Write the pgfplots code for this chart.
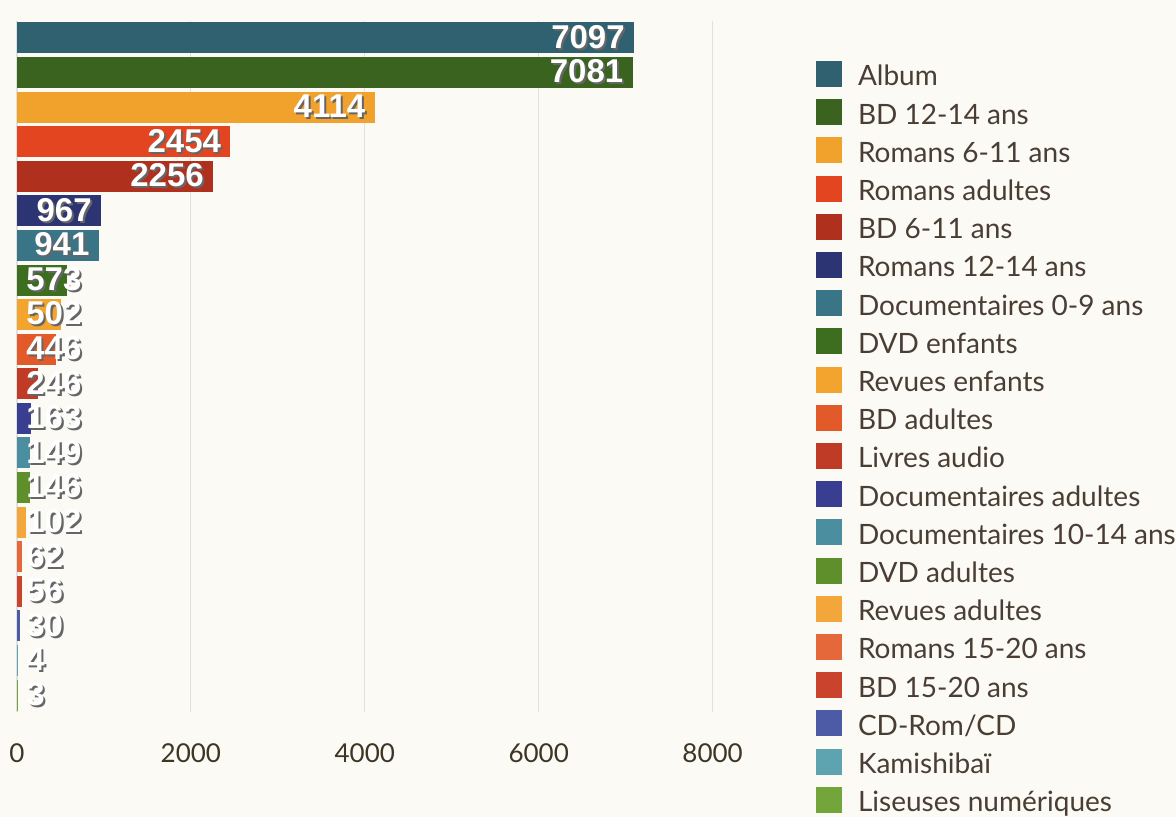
\documentclass[border=0pt]{standalone}
\usepackage{fontspec}
\setmainfont{Lato}
\newfontfamily\labfont{Liberation Sans}
\usepackage{pgfplots}
\pgfplotsset{compat=1.18}
\definecolor{bgc}{HTML}{FBFAF5}
\definecolor{txt}{HTML}{4A3E34}
\definecolor{tick}{HTML}{3E3524}
\definecolor{c1}{HTML}{2F6170}
\definecolor{c2}{HTML}{3A6320}
\definecolor{c3}{HTML}{F0A22C}
\definecolor{c4}{HTML}{E2451F}
\definecolor{c5}{HTML}{B0301E}
\definecolor{c6}{HTML}{2D3473}
\definecolor{c7}{HTML}{3A7487}
\definecolor{c8}{HTML}{3D6E20}
\definecolor{c9}{HTML}{F2A42E}
\definecolor{c10}{HTML}{E35A2A}
\definecolor{c11}{HTML}{C03B25}
\definecolor{c12}{HTML}{3A3E90}
\definecolor{c13}{HTML}{4A8EA0}
\definecolor{c14}{HTML}{5E8F2A}
\definecolor{c15}{HTML}{F3A63A}
\definecolor{c16}{HTML}{E5683A}
\definecolor{c17}{HTML}{C9432D}
\definecolor{c18}{HTML}{4D5AA5}
\definecolor{c19}{HTML}{5EA3B0}
\definecolor{c20}{HTML}{73A53A}
\newcommand\shlab[1]{\makebox[0pt][l]{\raisebox{-1pt}{\kern1pt\textcolor{black!60}{#1}}}\textcolor{white}{#1}}
\begin{document}
\begin{tikzpicture}
\fill[bgc] (0,0) rectangle (588pt,408.5pt);
\begin{axis}[
  at={(8.5pt,52.35pt)}, anchor=south west,
  scale only axis, width=347.8pt, height=345.8pt,
  xbar, bar width=15.5pt,
  every axis plot/.append style={bar shift=0pt, draw=none},
  xmin=0, xmax=8000, ymin=-0.5, ymax=19.5, y dir=reverse,
  enlargelimits=false,
  axis line style={draw=none},
  xtick={0,2000,4000,6000,8000}, ytick=\empty,
  major tick length=0pt,
  xmajorgrids, grid style={black!12, line width=0.6pt},
  /pgf/number format/assume math mode=true,
  /pgf/number format/1000 sep={},
  xticklabel style={font=\fontsize{13}{15}\selectfont, text=tick, anchor=base, yshift=-25pt},
  point meta=explicit symbolic,
  nodes near coords={\shlab{\pgfplotspointmeta}},
  nodes near coords style={anchor=east, xshift=-4.5pt, inner sep=0pt, font=\labfont\bfseries\fontsize{16.5}{16.5}\selectfont},
  legend cell align=left,
  legend style={at={(1.1487,0.9418)}, anchor=north west, draw=none, fill=none,
    inner sep=0pt, outer sep=0pt, row sep=5.1pt, column sep=8pt,
    nodes={inner sep=0pt, text height=11.5pt, text depth=1.5pt, text=txt, font=\fontsize{14}{16}\selectfont}},
  legend image code/.code={\fill[#1] (0pt,-5.5pt) rectangle (13pt,7.5pt);},
]
\addplot[fill=c1] coordinates {(7097,0) [7097]};
\addplot[fill=c2] coordinates {(7081,1) [7081]};
\addplot[fill=c3] coordinates {(4114,2) [4114]};
\addplot[fill=c4] coordinates {(2454,3) [2454]};
\addplot[fill=c5] coordinates {(2256,4) [2256]};
\addplot[fill=c6] coordinates {(967,5) [967]};
\addplot[fill=c7] coordinates {(941,6) [941]};
\addplot[fill=c8, nodes near coords=] coordinates {(573,7) [573]};
\addplot[fill=c9, nodes near coords=] coordinates {(502,8) [502]};
\addplot[fill=c10, nodes near coords=] coordinates {(446,9) [446]};
\addplot[fill=c11, nodes near coords=] coordinates {(246,10) [246]};
\addplot[fill=c12, nodes near coords=] coordinates {(163,11) [163]};
\addplot[fill=c13, nodes near coords=] coordinates {(149,12) [149]};
\addplot[fill=c14, nodes near coords=] coordinates {(146,13) [146]};
\addplot[fill=c15, nodes near coords=] coordinates {(102,14) [102]};
\addplot[fill=c16, nodes near coords=] coordinates {(62,15) [62]};
\addplot[fill=c17, nodes near coords=] coordinates {(56,16) [56]};
\addplot[fill=c18, nodes near coords=] coordinates {(30,17) [30]};
\addplot[fill=c19, nodes near coords=] coordinates {(4,18) [4]};
\addplot[fill=c20, nodes near coords=] coordinates {(3,19) [3]};
\addplot[forget plot, only marks, mark=none,
  nodes near coords={\shlab{\pgfplotspointmeta}},
  nodes near coords style={anchor=west, xshift=9pt}]
  coordinates {(0,7) [573] (0,8) [502] (0,9) [446] (0,10) [246] (0,11) [163] (0,12) [149] (0,13) [146] (0,14) [102] (0,15) [62] (0,16) [56] (0,17) [30] (0,18) [4] (0,19) [3]};
\legend{Album, BD 12-14 ans, Romans 6-11 ans, Romans adultes, BD 6-11 ans, Romans 12-14 ans, Documentaires 0-9 ans, DVD enfants, Revues enfants, BD adultes, Livres audio, Documentaires adultes, Documentaires 10-14 ans, DVD adultes, Revues adultes, Romans 15-20 ans, BD 15-20 ans, CD-Rom/CD, Kamishibaï, Liseuses numériques}
\end{axis}
\pgfresetboundingbox
\path (0,0) rectangle (588pt,408.5pt);
\end{tikzpicture}
\end{document}
